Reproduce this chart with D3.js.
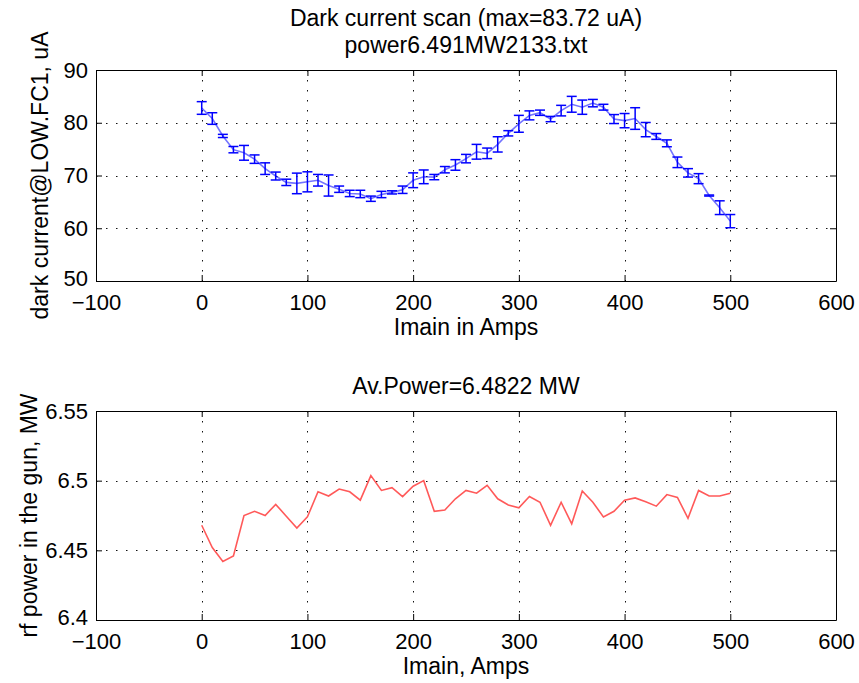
<!DOCTYPE html>
<html>
<head>
<meta charset="utf-8">
<script src="https://cdn.jsdelivr.net/npm/d3@7"></script>
<style>
  body { margin: 0; background: #fff; }
  svg text { font-family: "Liberation Sans", Arial, sans-serif; fill: #000; }
</style>
</head>
<body>
<svg class="chart"></svg>
<script>
const currents = [0, 10, 20, 30, 40, 50, 60, 70, 80, 90, 100, 110, 120, 130, 140, 150, 160, 170, 180, 190,
  200, 210, 220, 230, 240, 250, 260, 270, 280, 290, 300, 310, 320, 330, 340, 350, 360, 370, 380, 390,
  400, 410, 420, 430, 440, 450, 460, 470, 480, 490, 500]
const darkCurrent = [82.8, 80.8, 77.5, 74.9, 74.3, 73.1, 71.3, 69.9, 68.7, 68.5, 68.8, 69.1, 68.1, 67.4, 66.6,
  66.5, 65.6, 66.4, 66.8, 67.3, 69.1, 69.75, 69.7, 71.1, 72.0, 73.2, 74.5, 74.2, 75.9, 78.0, 79.8, 81.4,
  81.9, 80.7, 82.3, 83.5, 82.95, 83.72, 82.95, 80.7, 80.4, 80.8, 78.7, 77.4, 76.1, 72.5, 70.5, 69.4, 66.2,
  63.9, 61.35]
const darkErr = [1.2, 1.1, 0.3, 0.6, 1.4, 0.8, 1.1, 0.75, 0.6, 1.95, 1.9, 1.1, 2.0, 0.6, 0.6, 0.7, 0.5, 0.6,
  0.3, 0.7, 1.4, 1.3, 0.5, 0.6, 1.0, 0.8, 1.4, 1.0, 1.45, 0.5, 1.6, 0.85, 0.5, 0.5, 1.0, 1.5, 1.35, 0.7,
  0.55, 0.85, 1.35, 2.05, 1.35, 0.55, 0.65, 1.0, 0.8, 0.95, 0.1, 1.3, 1.25]
const rfPower = [6.468, 6.452, 6.442, 6.446, 6.475, 6.478, 6.475, 6.483, 6.4745, 6.466, 6.474, 6.492, 6.489,
  6.494, 6.492, 6.486, 6.5036, 6.493, 6.495, 6.4886, 6.496, 6.500, 6.478, 6.479, 6.487, 6.493, 6.491,
  6.4967, 6.487, 6.4826, 6.4805, 6.4886, 6.4845, 6.468, 6.4845, 6.469, 6.4926, 6.4845, 6.474, 6.478,
  6.486, 6.4876, 6.4848, 6.4817, 6.490, 6.488, 6.473, 6.493, 6.489, 6.489, 6.491]
const xTicks = [-100, 0, 100, 200, 300, 400, 500, 600]
const darkTicks = [50, 60, 70, 80, 90]
const powerTicks = [6.4, 6.45, 6.5, 6.55]

const width = 859
const height = 683
const left = 96
const right = 836
const fontSize = 23
const tickFont = 22

const chart = d3.select('.chart')
  .attr('width', width)
  .attr('height', height)

const xScale = d3.scaleLinear().domain([-100, 600]).range([left, right])

// one MATLAB-style axes box: grid, inward ticks on all four sides, labels
const panel = (top, bottom, yDomain, yTicks, yFormat, opts) => {
  const yScale = d3.scaleLinear().domain(yDomain).range([bottom, top])
  const g = chart.append('g')

  // dotted grid
  g.append('g').attr('class', 'grid')
    .selectAll('line.v')
    .data(xTicks.slice(1, -1))
    .enter()
    .append('line')
    .attr('x1', d => Math.round(xScale(d)) + 0.5)
    .attr('x2', d => Math.round(xScale(d)) + 0.5)
    .attr('y1', top)
    .attr('y2', bottom)
  g.select('.grid')
    .selectAll('line.h')
    .data(yTicks.slice(1, -1))
    .enter()
    .append('line')
    .attr('x1', left)
    .attr('x2', right)
    .attr('y1', d => Math.round(yScale(d)) + 0.5)
    .attr('y2', d => Math.round(yScale(d)) + 0.5)
  g.selectAll('.grid line')
    .attr('stroke', '#111')
    .attr('stroke-width', 1)
    .attr('stroke-dasharray', '1.5,8.5')

  const tick = 6
  g.append('g').attr('transform', `translate(0,${bottom})`)
    .call(d3.axisBottom(xScale).tickValues(xTicks).tickSizeInner(-tick).tickSizeOuter(0).tickPadding(13)
      .tickFormat(d => d < 0 ? '\u2212' + Math.abs(d) : d))
  g.append('g').attr('transform', `translate(0,${top})`)
    .call(d3.axisTop(xScale).tickValues(xTicks).tickSizeInner(-tick).tickSizeOuter(0).tickFormat(''))
  const yAxis = g.append('g').attr('transform', `translate(${left},0)`)
    .call(d3.axisLeft(yScale).tickValues(yTicks).tickSizeInner(-tick).tickSizeOuter(0).tickPadding(8)
      .tickFormat(yFormat))
  g.append('g').attr('transform', `translate(${right},0)`)
    .call(d3.axisRight(yScale).tickValues(yTicks).tickSizeInner(-tick).tickSizeOuter(0).tickFormat(''))

  g.selectAll('.tick text').attr('font-size', tickFont).attr('font-family', null)
  g.selectAll('.domain, .tick line').attr('stroke', '#000')
  // lowest y label sits just above the first x label
  yAxis.select('.tick text').attr('y', -3)

  g.append('text')
    .attr('x', (left + right) / 2)
    .attr('y', bottom + 54)
    .attr('text-anchor', 'middle')
    .attr('font-size', fontSize)
    .text(opts.xLabel)

  g.append('text')
    .attr('transform', `translate(${opts.yLabelX},${(top + bottom) / 2}) rotate(-90)`)
    .attr('text-anchor', 'middle')
    .attr('font-size', fontSize)
    .text(opts.yLabel)

  g.selectAll('text.title')
    .data(opts.title)
    .enter()
    .append('text')
    .attr('class', 'title')
    .attr('x', (left + right) / 2)
    .attr('y', (d, i) => top - 17 - (opts.title.length - 1 - i) * 27)
    .attr('text-anchor', 'middle')
    .attr('font-size', fontSize)
    .text(d => d)

  return { g, yScale }
}

// upper axes: dark current with error bars
const upper = panel(70, 281, [50, 90], darkTicks, d3.format('d'), {
  xLabel: 'Imain in Amps',
  yLabel: 'dark current@LOW.FC1, uA',
  yLabelX: 48,
  title: ['Dark current scan (max=83.72 uA)', 'power6.491MW2133.txt']
})

const darkLine = d3.line()
  .x((d, i) => xScale(currents[i]))
  .y(d => upper.yScale(d))

upper.g.append('path')
  .datum(darkCurrent)
  .attr('d', darkLine)
  .attr('fill', 'none')
  .attr('stroke', '#0000ff')
  .attr('stroke-opacity', 0.55)
  .attr('stroke-width', 1.6)

const cap = 5
const bars = upper.g.append('g')
  .attr('stroke', '#0000ff')
  .attr('stroke-width', 1.5)
  .selectAll('g')
  .data(currents)
  .enter()
  .append('g')
bars.append('line')
  .attr('x1', d => xScale(d))
  .attr('x2', d => xScale(d))
  .attr('y1', (d, i) => upper.yScale(darkCurrent[i] - darkErr[i]))
  .attr('y2', (d, i) => upper.yScale(darkCurrent[i] + darkErr[i]))
bars.append('line')
  .attr('x1', d => xScale(d) - cap)
  .attr('x2', d => xScale(d) + cap)
  .attr('y1', (d, i) => upper.yScale(darkCurrent[i] - darkErr[i]))
  .attr('y2', (d, i) => upper.yScale(darkCurrent[i] - darkErr[i]))
bars.append('line')
  .attr('x1', d => xScale(d) - cap)
  .attr('x2', d => xScale(d) + cap)
  .attr('y1', (d, i) => upper.yScale(darkCurrent[i] + darkErr[i]))
  .attr('y2', (d, i) => upper.yScale(darkCurrent[i] + darkErr[i]))

// lower axes: rf power
const lower = panel(411, 620, [6.4, 6.55], powerTicks, d => d3.format('.2f')(d).replace(/0$/, '').replace(/\.0$/, ''), {
  xLabel: 'Imain, Amps',
  yLabel: 'rf power in the gun, MW',
  yLabelX: 37,
  title: ['Av.Power=6.4822 MW']
})

lower.g.append('path')
  .datum(rfPower)
  .attr('d', d3.line()
    .x((d, i) => xScale(currents[i]))
    .y(d => lower.yScale(d)))
  .attr('fill', 'none')
  .attr('stroke', '#ff0000')
  .attr('stroke-opacity', 0.65)
  .attr('stroke-width', 1.6)
</script>
</body>
</html>
